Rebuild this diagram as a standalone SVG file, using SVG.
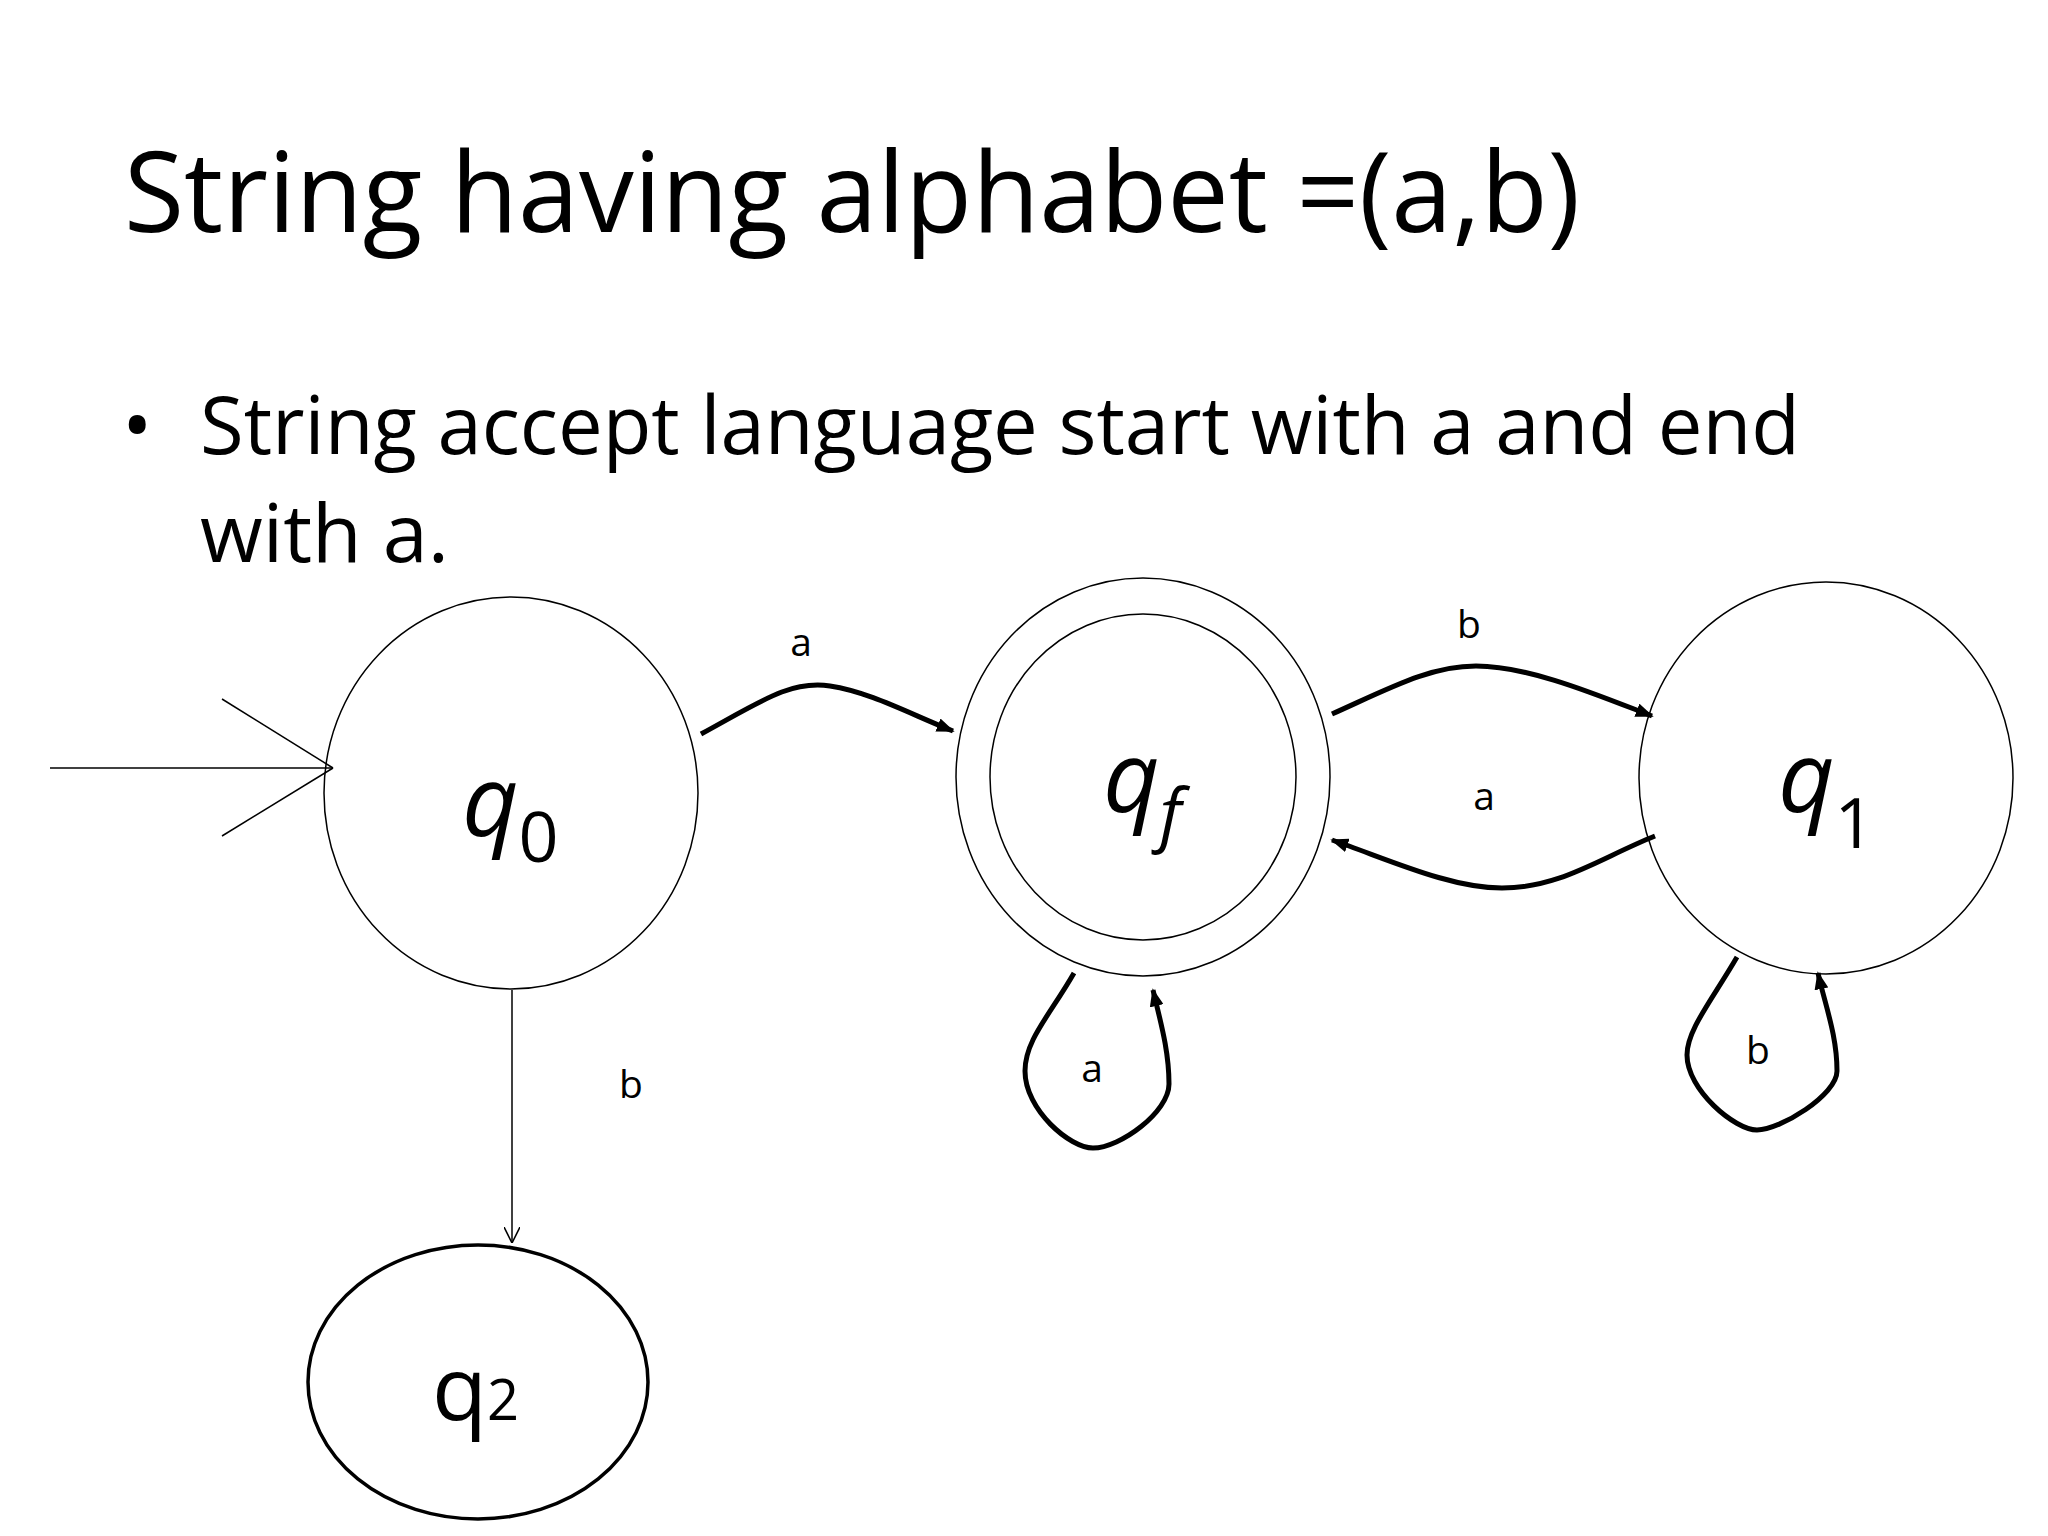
<svg xmlns="http://www.w3.org/2000/svg" width="2048" height="1536" viewBox="0 0 2048 1536">
<defs>
<marker id="ah" viewBox="0 0 10 10" refX="9" refY="5" markerWidth="18" markerHeight="14" orient="auto" markerUnits="userSpaceOnUse" preserveAspectRatio="none">
<path d="M0,0 L10,5 L0,10 z" fill="#000"/>
</marker>
<marker id="open" viewBox="0 0 10 10" refX="10" refY="5" markerWidth="16" markerHeight="16" orient="auto" markerUnits="userSpaceOnUse">
<path d="M0,0 L10,5 L0,10" fill="none" stroke="#000" stroke-width="1"/>
</marker>
</defs>
<style>
text{font-family:"Open Sans","Liberation Sans",sans-serif;fill:#000}
.st{fill:#fff;stroke:#000;stroke-width:1.5}
.e{fill:none;stroke:#000;stroke-width:5}
.lbl{font-size:39px;text-anchor:middle}
.q{font-size:98px;font-style:italic}
.sub{font-size:70px}
</style>
<rect width="2048" height="1536" fill="#fff"/>
<text x="124" y="232" font-size="112" textLength="1456" lengthAdjust="spacingAndGlyphs">String having alphabet =(a,b)</text>
<text x="122" y="454" font-size="81">•</text>
<text x="200" y="454" font-size="81" textLength="1600" lengthAdjust="spacingAndGlyphs">String accept language start with a and end</text>
<text x="200" y="562" font-size="81">with a.</text>
<g id="q0"><ellipse class="st" cx="511" cy="793" rx="187" ry="196"/><text x="462" y="836" class="q">q<tspan class="sub" font-style="normal" dy="26">0</tspan></text></g>
<g id="qf"><ellipse class="st" cx="1143" cy="777" rx="187" ry="199"/><ellipse class="st" cx="1143" cy="777" rx="153" ry="163"/><text x="1103" y="812" class="q">q<tspan class="sub" dy="26">f</tspan></text></g>
<g id="q1"><ellipse class="st" cx="1826" cy="778" rx="187" ry="196"/><text x="1778" y="812" class="q">q<tspan class="sub" font-style="normal" dy="36">1</tspan></text></g>
<g id="q2"><ellipse cx="478" cy="1382" rx="170" ry="137" fill="#fff" stroke="#000" stroke-width="3.5"/><text x="432" y="1420" font-size="90">q<tspan font-size="56">2</tspan></text></g>
<g id="connectors">
<line x1="50" y1="768" x2="333" y2="768" stroke="#000" stroke-width="1.5"/>
<line x1="222" y1="699" x2="333" y2="768" stroke="#000" stroke-width="1.5"/>
<line x1="222" y1="836" x2="333" y2="768" stroke="#000" stroke-width="1.5"/>
<line x1="512" y1="990" x2="512" y2="1243" stroke="#000" stroke-width="1.5" marker-end="url(#open)"/>
<path class="e" d="M701,734 C760,702 790,680 830,686 C870,692 910,714 953,731" marker-end="url(#ah)"/>
<path class="e" d="M1332,714 C1390,688 1430,666 1476,666 C1530,666 1600,696 1652,716" marker-end="url(#ah)"/>
<path class="e" d="M1655,836 C1600,858 1560,888 1502,888 C1450,888 1390,860 1332,840" marker-end="url(#ah)"/>
<path class="e" d="M1074,973 C1050,1015 1025,1040 1025,1071 C1025,1110 1070,1148 1093,1148 C1120,1148 1169,1112 1169,1084 C1169,1050 1160,1020 1153,990" marker-end="url(#ah)"/>
<path class="e" d="M1737,957 C1712,1000 1687,1030 1687,1055 C1687,1090 1735,1130 1757,1130 C1780,1130 1837,1095 1837,1071 C1837,1035 1825,1005 1818,973" marker-end="url(#ah)"/>
</g>
<text class="lbl" x="631" y="1098">b</text>
<text class="lbl" x="801" y="656">a</text>
<text class="lbl" x="1469" y="638">b</text>
<text class="lbl" x="1484" y="810">a</text>
<text class="lbl" x="1092" y="1082">a</text>
<text class="lbl" x="1758" y="1064">b</text>
</svg>
